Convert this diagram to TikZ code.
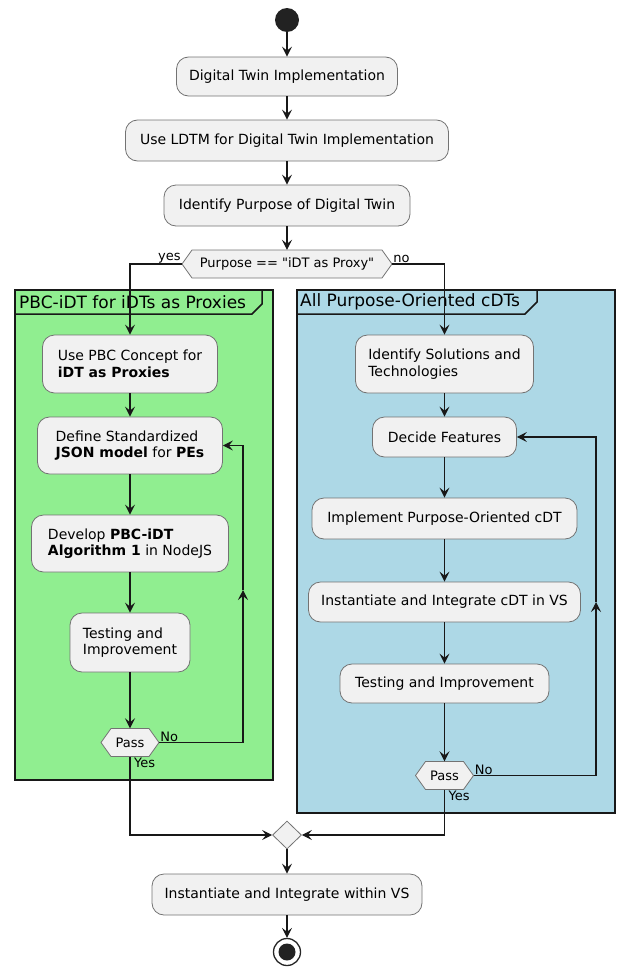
\documentclass[tikz,border=0pt]{standalone}
\usepackage{fontspec}
\setmainfont{DejaVu Sans}[Ligatures=TeXOff]
\usetikzlibrary{arrows.meta,shapes.geometric}
\definecolor{nodefill}{HTML}{F1F1F1}
\definecolor{linec}{HTML}{181818}
\definecolor{greenp}{HTML}{90EE90}
\definecolor{bluep}{HTML}{ADD8E6}
\definecolor{startc}{HTML}{222222}
\newcommand\hexat[5]{%
  \draw[hexshape] (#1-#3,#2) -- (#1-#3+10,#2-14) -- (#1+#3-10,#2-14) -- (#1+#3,#2) -- (#1+#3-10,#2+14) -- (#1-#3+10,#2+14) -- cycle;
  \node[hextext, minimum width=2*#3, minimum height=28] (#4) at (#1,#2) {#5};}
\begin{document}
\begin{tikzpicture}[x=1pt,y=-1pt,
  act/.style={draw=black!55, line width=0.8pt, fill=nodefill, rounded corners=12pt, align=left,
    font=\fontsize{14}{16.5}\selectfont, inner sep=0pt},
  hexshape/.style={draw=black!55, line width=0.8pt, fill=nodefill},
  hextext/.style={inner sep=0pt, font=\fontsize{13}{15}\selectfont},
  conn/.style={draw=linec, line width=1.1pt, -{Stealth[length=10pt,width=10pt,inset=4pt]}},
  plain/.style={draw=linec, line width=1.1pt},
  lbl/.style={inner sep=1pt, font=\fontsize{13}{15}\selectfont},
  part/.style={draw=linec, line width=1.5pt},
  ptitle/.style={inner sep=0pt, font=\fontsize{17}{20}\selectfont}]
\useasboundingbox (0,0) rectangle (618,969);

% partitions
\draw[part, fill=greenp] (15,290) rectangle (273,780);
\draw[part] (15,314) -- (252,314) -- (262,304) -- (262,290);
\node[ptitle, anchor=west] (ptl) at (19,302) {PBC-iDT for iDTs as Proxies};
\draw[part, fill=bluep] (297,290) rectangle (615,813);
\draw[part] (297,314) -- (525,314) -- (537,302) -- (537,290);
\node[ptitle, anchor=west] (ptr) at (300,302) {All Purpose-Oriented cDTs};

% top
\node[circle, fill=startc, minimum size=24pt, inner sep=0pt] (start) at (287,20) {};
\node[act, minimum width=221, minimum height=39] (n1) at (287,76.5) {Digital Twin Implementation};
\node[act, minimum width=323, minimum height=41] (n2) at (287,140.5) {Use LDTM for Digital Twin Implementation};
\node[act, minimum width=246, minimum height=41] (n3) at (287,205.5) {Identify Purpose of Digital Twin};
\hexat{287}{264}{105}{dec}{Purpose == "iDT as Proxy"}

% left branch
\node[act, minimum width=175, minimum height=58] (L1) at (130,364) {Use PBC Concept for\\\textbf{iDT as Proxies}};
\node[act, minimum width=185, minimum height=57] (L2) at (130,445.5) {Define Standardized\\\textbf{JSON model} for \textbf{PEs}};
\node[act, minimum width=197, minimum height=57] (L3) at (130,543.5) {Develop \textbf{PBC-iDT}\\\textbf{Algorithm 1} in NodeJS};
\node[act, minimum width=120, minimum height=59] (L4) at (130,642.5) {Testing and\\Improvement};
\hexat{130}{742.5}{29}{LP}{Pass}

% right branch
\node[act, minimum width=178, minimum height=58] (R1) at (444.5,364) {Identify Solutions and\\Technologies};
\node[act, minimum width=144, minimum height=40] (R2) at (444.5,437) {Decide Features};
\node[act, minimum width=265, minimum height=41] (R3) at (444.5,518.5) {Implement Purpose-Oriented cDT};
\node[act, minimum width=272, minimum height=40] (R4) at (444.5,602) {Instantiate and Integrate cDT in VS};
\node[act, minimum width=209, minimum height=39] (R5) at (444.5,683.5) {Testing and Improvement};
\hexat{444.5}{775.5}{29}{RP}{Pass}

% bottom
\node[diamond, aspect=1, draw=black!55, line width=0.8pt, fill=nodefill, minimum width=29pt, minimum height=28pt, inner sep=0pt] (M) at (287,835) {};
\node[act, minimum width=270, minimum height=41] (F) at (287,894.5) {Instantiate and Integrate within VS};
\node[circle, draw=black!85, line width=1.3pt, fill=white, minimum size=27pt, inner sep=0pt] (end) at (287,952) {};
\fill[startc] (end.center) circle (8.5);

% connectors
\draw[conn] (start) -- (n1);
\draw[conn] (n1) -- (n2);
\draw[conn] (n2) -- (n3);
\draw[conn] (n3) -- (dec);
\draw[conn] (dec.west) -| (L1.north);
\draw[conn] (dec.east) -| (R1.north);
\node[lbl, anchor=south east] at (dec.west) {yes};
\node[lbl, anchor=south west] at (dec.east) {no};

\draw[conn] (L1) -- (L2);
\draw[conn] (L2) -- (L3);
\draw[conn] (L3) -- (L4);
\draw[conn] (L4) -- (LP);
\coordinate (lx1) at (243,742.5);
\coordinate (lx2) at (243,590);
\draw[conn] (LP.east) -- (lx1) -- (lx2);
\draw[conn] (lx2) |- (L2.east);
\node[lbl, anchor=south west] at (LP.east) {No};
\node[lbl, anchor=north west] at ([xshift=3pt]LP.south) {Yes};

\draw[conn] (R1) -- (R2);
\draw[conn] (R2) -- (R3);
\draw[conn] (R3) -- (R4);
\draw[conn] (R4) -- (R5);
\draw[conn] (R5) -- (RP);
\coordinate (rx1) at (596,775.5);
\coordinate (rx2) at (596,602);
\draw[conn] (RP.east) -- (rx1) -- (rx2);
\draw[conn] (rx2) |- (R2.east);
\node[lbl, anchor=south west] at (RP.east) {No};
\node[lbl, anchor=north west] at ([xshift=3pt]RP.south) {Yes};

\draw[conn] (LP.south) |- (M.west);
\draw[conn] (RP.south) |- (M.east);
\draw[conn] (M) -- (F);
\draw[conn] (F) -- (end);
\end{tikzpicture}
\end{document}
